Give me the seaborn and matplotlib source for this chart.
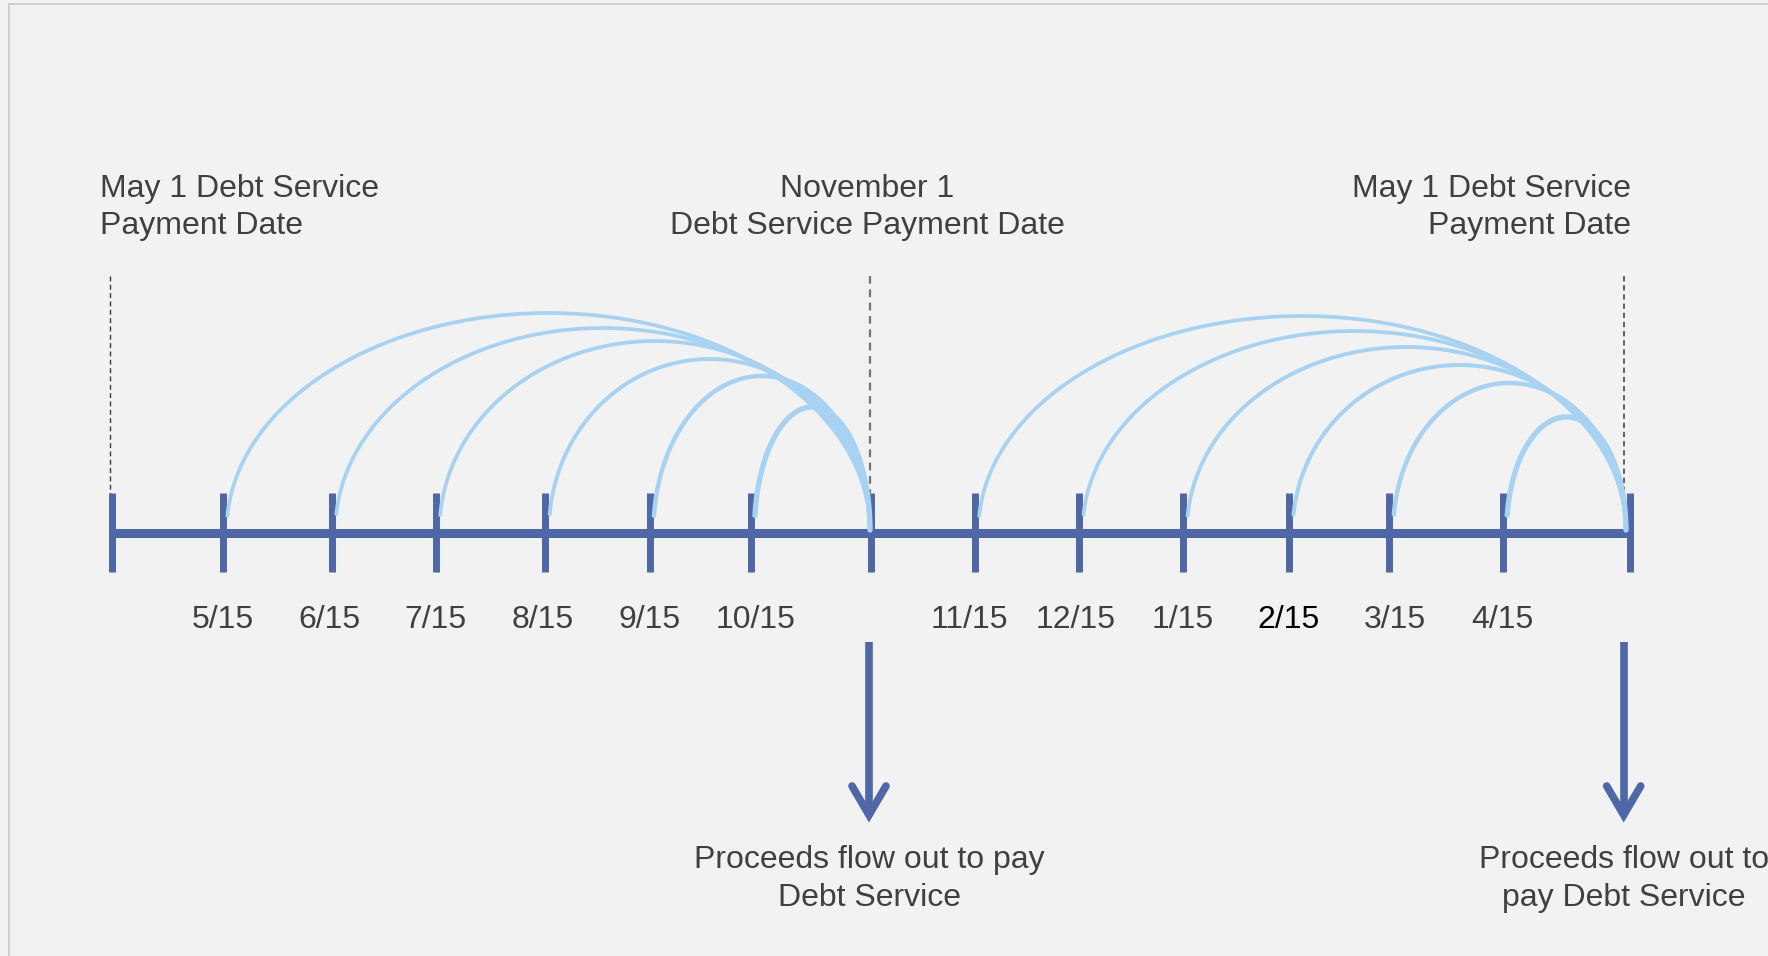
import numpy as np
import pandas as pd
import matplotlib
matplotlib.use("Agg")
import matplotlib.pyplot as plt
import seaborn as sns

# ---- timeline layout (horizontal positions on a 1768 x 956 canvas) ----
tick_x = [111.7, 222.7, 331.5, 435.5, 545.0, 649.5, 750.5, 870.5,
          974.5, 1078.7, 1183.0, 1288.8, 1389.2, 1502.7, 1630.0]

# monthly 15th labels and their centres
month_labels = ["5/15", "6/15", "7/15", "8/15", "9/15", "10/15",
                "11/15", "12/15", "1/15", "2/15", "3/15", "4/15"]
month_label_x = [222.5, 329.0, 435.5, 542.5, 649.5, 756.0,
                 969.0, 1075.7, 1182.9, 1288.8, 1394.8, 1502.0]

# deposit arcs: start tick index -> payment-date tick index, arc height
arc_start_idx = [1, 2, 3, 4, 5, 6, 8, 9, 10, 11, 12, 13]
arc_end_x = [870.0] * 6 + [1626.0] * 6
arc_height = [217, 202, 189, 171, 154, 123,
              214, 199, 183, 165, 147, 113]
arc_width = [2.7, 2.7, 2.7, 2.8, 3.2, 3.8,
             2.7, 2.7, 2.8, 2.9, 3.2, 3.8]

# payment dates: dashed markers, headers and outflow arrows
payment_x = [110.0, 870.0, 1623.7]
payment_dash_bottom = [505, 493, 490]
payment_dash_color = ["#3a3a3a", "#757575", "#3a3a3a"]
payment_dash_lw = [1.0, 1.6, 1.1]
header_lines = [["May 1 Debt Service", "Payment Date"],
                ["November 1", "Debt Service Payment Date"],
                ["May 1 Debt Service", "Payment Date"]]
header_x = [100.0, 867.0, 1630.5]
header_ha = ["left", "center", "right"]
arrow_x = [869.0, 1623.7]
arrow_text = [["Proceeds flow out to pay", "Debt Service"],
              ["Proceeds flow out to", "pay Debt Service"]]

# ---- styling ----
BG = "#f2f2f2"
NAVY = "#4f67a6"
SKY = "#a7d2f1"
TXT = "#404040"
LINE_Y = 533.0

sns.set_theme(style="white")
plt.rcParams["font.family"] = ["Liberation Sans", "DejaVu Sans"]

fig = plt.figure(figsize=(17.68, 9.56), dpi=100)
fig.patch.set_facecolor(BG)
ax = fig.add_axes([0, 0, 1, 1])
ax.set_facecolor(BG)
ax.set_xlim(0, 1768)
ax.set_ylim(956, 0)
ax.axis("off")

# outer frame (top and left edges)
ax.plot([8.7, 8.7, 1768], [956, 4.3, 4.3], color="#c8c8c8", lw=1.2,
        solid_joinstyle="miter")

# dashed payment-date markers
for x, yb, c, lw in zip(payment_x, payment_dash_bottom, payment_dash_color, payment_dash_lw):
    ax.plot([x, x], [276, yb], color=c, lw=lw, dashes=(3.5, 2.5), zorder=1)

# main timeline and ticks
ax.plot([tick_x[0], tick_x[-1]], [LINE_Y, LINE_Y], color=NAVY, lw=6.5,
        solid_capstyle="butt", zorder=2)
ax.vlines(tick_x, 493, 572, color=NAVY, lw=5.0, zorder=2)

# deposit arcs (half ellipses from each 15th to the next payment date);
# the rising end stops just above the timeline, the falling end meets it
rows = []
theta = np.linspace(0.0, np.pi, 240)
for k, (si, xe, h) in enumerate(zip(arc_start_idx, arc_end_x, arc_height)):
    xs = tick_x[si] + 4.0
    cx, a = (xs + xe) / 2.0, (xe - xs) / 2.0
    base = LINE_Y - 3
    t_start = np.arcsin(min(1.0, 14.0 / h))
    for t in theta[theta >= t_start]:
        rows.append({"arc": k, "x": cx - a * np.cos(t), "y": base - h * np.sin(t)})
arcs = pd.DataFrame(rows)
for k, lw in enumerate(arc_width):
    sns.lineplot(data=arcs[arcs["arc"] == k], x="x", y="y", sort=False,
                 estimator=None, color=SKY, lw=lw, ax=ax, zorder=3)

# month labels
for lab, x in zip(month_labels, month_label_x):
    ax.text(x, 628, lab, ha="center", va="baseline", fontsize=23,
            color="black" if lab == "2/15" else TXT)

# headers
for lines, x, ha in zip(header_lines, header_x, header_ha):
    for j, line in enumerate(lines):
        ax.text(x, 197 + 37 * j, line, ha=ha, va="baseline", fontsize=23, color=TXT)

# outflow arrows and captions
for x, lines in zip(arrow_x, arrow_text):
    ax.plot([x, x], [642, 812], color=NAVY, lw=5.5, solid_capstyle="butt", zorder=2)
    ax.plot([x - 17, x, x + 17], [786, 815, 786], color=NAVY, lw=5.5,
            solid_capstyle="round", solid_joinstyle="miter", zorder=2)
    for j, line in enumerate(lines):
        ax.text(x, 868 + 38 * j, line, ha="center", va="baseline", fontsize=23, color=TXT)

fig.savefig("out.png", dpi=100, facecolor=BG)
